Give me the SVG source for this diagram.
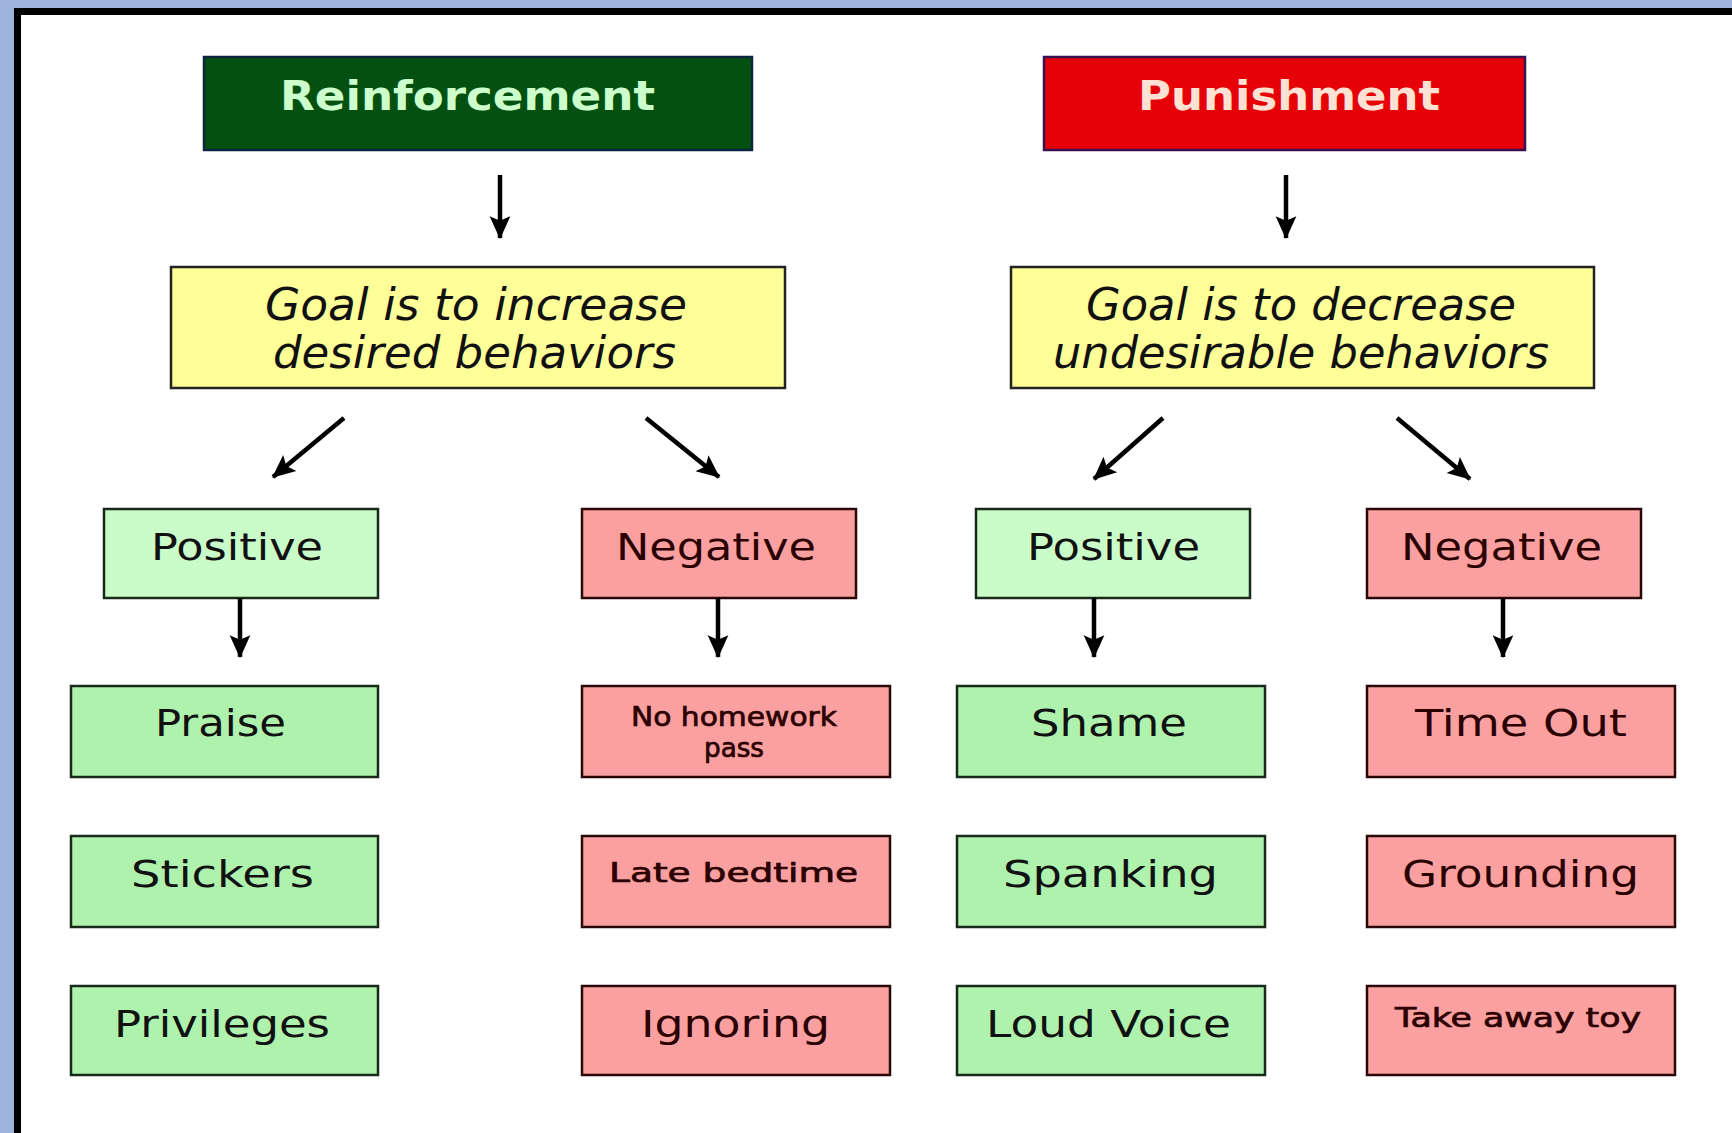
<svg xmlns="http://www.w3.org/2000/svg" width="1732" height="1133" viewBox="0 0 1732 1133">
<defs>
<marker id="ah" viewBox="0 0 20 20" refX="19" refY="10" markerWidth="23" markerHeight="23" markerUnits="userSpaceOnUse" orient="auto">
<path d="M0,1 L20,10 L0,19 L4,10 z" fill="#000"/>
</marker>
</defs>
<style>
text{font-family:"DejaVu Sans",Verdana,"Liberation Sans",sans-serif}
.hdr{font-weight:bold;font-size:40px}
.goal{font-style:italic;font-size:44px;fill:#111}
.lbl{font-size:38px;fill:#111}
.sm{font-size:26px;fill:#2a0000;stroke:#2a0000;stroke-width:0.7}
.pos{fill:#c9fcc9;stroke:#1a2a1a;stroke-width:2.5}
.grn{fill:#aef2ae;stroke:#1a2a1a;stroke-width:2.5}
.neg{fill:#fba0a0;stroke:#2a0808;stroke-width:2.5}
.yel{fill:#ffff99;stroke:#222;stroke-width:2.5}
.nt{fill:#2a0000}
#connectors line{stroke:#000;stroke-width:4.5;marker-end:url(#ah)}
</style>
<rect x="0" y="0" width="1732" height="1133" fill="#9eb4dc"/>
<rect x="14" y="8" width="1718" height="1125" fill="#ffffff"/>
<line x1="17.5" y1="8" x2="17.5" y2="1133" stroke="#000" stroke-width="7"/>
<line x1="14" y1="11.5" x2="1732" y2="11.5" stroke="#000" stroke-width="7"/>

<g id="reinforcement">
<rect x="204" y="57" width="548" height="93" fill="#045010" stroke="#0b2440" stroke-width="2.5"/>
<text class="hdr" x="280" y="110" fill="#ccffcc" textLength="375" lengthAdjust="spacingAndGlyphs">Reinforcement</text>
</g>
<g id="punishment">
<rect x="1044" y="57" width="481" height="93" fill="#e60008" stroke="#3a1050" stroke-width="2.5"/>
<text class="hdr" x="1138" y="110" fill="#ffe2d4" textLength="302" lengthAdjust="spacingAndGlyphs">Punishment</text>
</g>

<g id="goal-increase">
<rect class="yel" x="171" y="267" width="614" height="121"/>
<text class="goal" x="265" y="320" textLength="422" lengthAdjust="spacingAndGlyphs">Goal is to increase</text>
<text class="goal" x="273" y="368" textLength="403" lengthAdjust="spacingAndGlyphs">desired behaviors</text>
</g>
<g id="goal-decrease">
<rect class="yel" x="1011" y="267" width="583" height="121"/>
<text class="goal" x="1086" y="320" textLength="430" lengthAdjust="spacingAndGlyphs">Goal is to decrease</text>
<text class="goal" x="1053" y="368" textLength="496" lengthAdjust="spacingAndGlyphs">undesirable behaviors</text>
</g>

<g id="r-positive">
<rect class="pos" x="104" y="509" width="274" height="89"/>
<text class="lbl" x="151" y="560" textLength="172" lengthAdjust="spacingAndGlyphs">Positive</text>
</g>
<g id="r-negative">
<rect class="neg" x="582" y="509" width="274" height="89"/>
<text class="lbl nt" x="616" y="560" textLength="200" lengthAdjust="spacingAndGlyphs">Negative</text>
</g>
<g id="p-positive">
<rect class="pos" x="976" y="509" width="274" height="89"/>
<text class="lbl" x="1027" y="560" textLength="173" lengthAdjust="spacingAndGlyphs">Positive</text>
</g>
<g id="p-negative">
<rect class="neg" x="1367" y="509" width="274" height="89"/>
<text class="lbl nt" x="1401" y="560" textLength="201" lengthAdjust="spacingAndGlyphs">Negative</text>
</g>

<g id="praise">
<rect class="grn" x="71" y="686" width="307" height="91"/>
<text class="lbl" x="155" y="736" textLength="131" lengthAdjust="spacingAndGlyphs">Praise</text>
</g>
<g id="stickers">
<rect class="grn" x="71" y="836" width="307" height="91"/>
<text class="lbl" x="131" y="887" textLength="183" lengthAdjust="spacingAndGlyphs">Stickers</text>
</g>
<g id="privileges">
<rect class="grn" x="71" y="986" width="307" height="89"/>
<text class="lbl" x="114" y="1037" textLength="216" lengthAdjust="spacingAndGlyphs">Privileges</text>
</g>

<g id="no-homework-pass">
<rect class="neg" x="582" y="686" width="308" height="91"/>
<text class="sm" x="631" y="726" textLength="206" lengthAdjust="spacingAndGlyphs">No homework</text>
<text class="sm" x="704" y="757" textLength="60" lengthAdjust="spacingAndGlyphs">pass</text>
</g>
<g id="late-bedtime">
<rect class="neg" x="582" y="836" width="308" height="91"/>
<text class="sm" x="609" y="882" font-size="31" textLength="249" lengthAdjust="spacingAndGlyphs">Late bedtime</text>
</g>
<g id="ignoring">
<rect class="neg" x="582" y="986" width="308" height="89"/>
<text class="lbl nt" x="641" y="1037" textLength="189" lengthAdjust="spacingAndGlyphs">Ignoring</text>
</g>

<g id="shame">
<rect class="grn" x="957" y="686" width="308" height="91"/>
<text class="lbl" x="1031" y="736" textLength="156" lengthAdjust="spacingAndGlyphs">Shame</text>
</g>
<g id="spanking">
<rect class="grn" x="957" y="836" width="308" height="91"/>
<text class="lbl" x="1003" y="887" textLength="215" lengthAdjust="spacingAndGlyphs">Spanking</text>
</g>
<g id="loud-voice">
<rect class="grn" x="957" y="986" width="308" height="89"/>
<text class="lbl" x="986" y="1037" textLength="245" lengthAdjust="spacingAndGlyphs">Loud Voice</text>
</g>

<g id="time-out">
<rect class="neg" x="1367" y="686" width="308" height="91"/>
<text class="lbl nt" x="1415" y="736" textLength="212" lengthAdjust="spacingAndGlyphs">Time Out</text>
</g>
<g id="grounding">
<rect class="neg" x="1367" y="836" width="308" height="91"/>
<text class="lbl nt" x="1402" y="887" textLength="237" lengthAdjust="spacingAndGlyphs">Grounding</text>
</g>
<g id="take-away-toy">
<rect class="neg" x="1367" y="986" width="308" height="89"/>
<text class="sm" x="1395" y="1027" font-size="28" textLength="246" lengthAdjust="spacingAndGlyphs">Take away toy</text>
</g>

<g id="connectors">
<line x1="500" y1="175" x2="500" y2="238"/>
<line x1="1286" y1="175" x2="1286" y2="238"/>
<line x1="344" y1="418" x2="273" y2="477"/>
<line x1="646" y1="418" x2="719" y2="477"/>
<line x1="1163" y1="418" x2="1094" y2="479"/>
<line x1="1397" y1="418" x2="1470" y2="479"/>
<line x1="240" y1="598" x2="240" y2="657"/>
<line x1="718" y1="598" x2="718" y2="657"/>
<line x1="1094" y1="598" x2="1094" y2="657"/>
<line x1="1503" y1="598" x2="1503" y2="657"/>
</g>
</svg>
